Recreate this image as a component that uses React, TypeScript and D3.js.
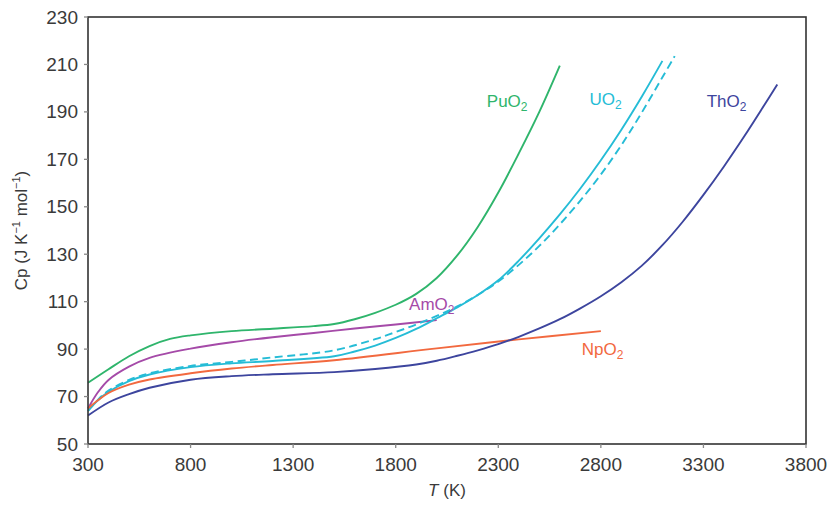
import React from "react";
import * as d3 from "d3";

const W = 832;
const H = 509;

const xTicks = [300, 800, 1300, 1800, 2300, 2800, 3300, 3800];
const yTicks = [50, 70, 90, 110, 130, 150, 170, 190, 210, 230];

const puT = [300, 400, 500, 600, 700, 800, 1000, 1200, 1400, 1500, 1600, 1700, 1800, 1900, 2000, 2100, 2200, 2300, 2400, 2500, 2600];
const puCp = [75.8, 81.5, 87, 91.3, 94.3, 95.8, 97.6, 98.6, 99.7, 100.6, 102.6, 105.3, 108.7, 113.3, 120, 129.5, 141.5, 156, 172.5, 190, 209.5];

const amT = [300, 350, 400, 500, 600, 800, 1000, 1200, 1400, 1600, 1800, 2000];
const amCp = [65, 72, 77, 82.6, 86.3, 90.2, 92.9, 95, 96.8, 98.7, 100.4, 102.2];

const uT = [300, 350, 400, 500, 600, 800, 1000, 1200, 1500, 1600, 1700, 1800, 1900, 2000, 2100, 2200, 2300, 2400, 2500, 2600, 2700, 2800, 2900, 3000, 3100];
const uCp = [64, 68.5, 72, 76.5, 79.3, 82.4, 84, 85, 87, 89, 91.5, 94.7, 98.5, 103, 107.6, 112.8, 119, 127.3, 136.7, 146.8, 157.7, 169.6, 182.5, 196.5, 211.5];

const uDashT = [300, 350, 400, 500, 600, 800, 1000, 1200, 1500, 1700, 1800, 1900, 2000, 2100, 2200, 2300, 2400, 2500, 2600, 2700, 2800, 2900, 3000, 3100, 3160];
const uDashCp = [64, 68.8, 72.5, 77, 79.8, 82.9, 84.6, 86.5, 89.5, 94.2, 97.2, 100.4, 104, 108, 112.8, 118.5, 125.5, 133.5, 142.6, 152.6, 163.6, 176, 189.8, 204.6, 213.5];

const npT = [300, 350, 400, 500, 600, 800, 1000, 1200, 1500, 2000, 2400, 2800];
const npCp = [65, 68.5, 71.5, 75, 77.2, 79.8, 81.8, 83.3, 85.3, 90.3, 94.1, 97.6];

const thT = [300, 400, 500, 600, 800, 1000, 1200, 1500, 1700, 1900, 2000, 2100, 2200, 2300, 2400, 2500, 2600, 2700, 2800, 2900, 3000, 3100, 3200, 3300, 3400, 3500, 3600, 3660];
const thCp = [62, 67.5, 71, 73.7, 77.1, 78.6, 79.4, 80.3, 81.6, 83.5, 85.1, 87.2, 89.5, 92.1, 95.2, 98.7, 102.6, 107.2, 112.3, 118.2, 125.2, 133.8, 143.8, 155, 167, 179.8, 193.3, 201.5];

const seriesNames = ["PuO2", "AmO2", "UO2", "UO2 (dashed)", "NpO2", "ThO2"];
const seriesColors = ["#2fb56c", "#a54aa8", "#25bcd6", "#25bcd6", "#f2693f", "#3d459e"];

const labelNames = ["Pu", "U", "Th", "Am", "Np"];
const labelT = [2244, 2745, 3316, 1865, 2707];
const labelCp = [192.2, 192.7, 192.2, 106.5, 87.5];
const labelColors = ["#2fb56c", "#25bcd6", "#3d459e", "#a54aa8", "#f2693f"];

const margin = { left: 88, right: 26, top: 17, bottom: 65 };

export default function App() {
  const x = d3.scaleLinear().domain([300, 3800]).range([margin.left, W - margin.right]);
  const y = d3.scaleLinear().domain([50, 230]).range([H - margin.bottom, margin.top]);

  const series = [
    { t: puT, c: puCp, dash: false },
    { t: amT, c: amCp, dash: false },
    { t: uT, c: uCp, dash: false },
    { t: uDashT, c: uDashCp, dash: true },
    { t: npT, c: npCp, dash: false },
    { t: thT, c: thCp, dash: false },
  ];

  const line = d3
    .line<[number, number]>()
    .x((d) => x(d[0]))
    .y((d) => y(d[1]))
    .curve(d3.curveCatmullRom.alpha(0.5));

  const font = "'Liberation Sans', Arial, Helvetica, sans-serif";
  const textColor = "#3a3a3a";
  const x0 = x(300);
  const x1 = x(3800);
  const y0 = y(50);
  const y1 = y(230);

  return (
    <div>
      <style>{"body{margin:0}"}</style>
      <svg width={W} height={H} style={{ display: "block" }} fontFamily={font}>
        <rect x={0} y={0} width={W} height={H} fill="#fff" />
        {series.map((s, i) => (
          <path
            key={seriesNames[i]}
            d={line(s.t.map((t, j) => [t, s.c[j]] as [number, number])) || ""}
            fill="none"
            stroke={seriesColors[i]}
            strokeWidth={1.9}
            strokeDasharray={s.dash ? "8,4.5" : undefined}
          />
        ))}
        <rect x={x0} y={y1} width={x1 - x0} height={y0 - y1} fill="none" stroke="#333" strokeWidth={1.6} />
        {xTicks.map((t) => (
          <g key={"xt" + t}>
            <line x1={x(t)} x2={x(t)} y1={y0} y2={y0 + 4} stroke="#888" strokeWidth={1.3} />
            <text x={x(t)} y={y0 + 27} textAnchor="middle" fontSize={19} fill={textColor}>
              {t}
            </text>
          </g>
        ))}
        {yTicks.map((v) => (
          <g key={"yt" + v}>
            <line x1={x0 - 4} x2={x0} y1={y(v)} y2={y(v)} stroke="#888" strokeWidth={1.3} />
            <text x={x0 - 10} y={y(v) + 6.5} textAnchor="end" fontSize={19} fill={textColor}>
              {v}
            </text>
          </g>
        ))}
        <text x={(x0 + x1) / 2} y={H - 13} textAnchor="middle" fontSize={17} fill={textColor}>
          <tspan fontStyle="italic">T</tspan> (K)
        </text>
        <text
          transform={`translate(27,${(y0 + y1) / 2}) rotate(-90)`}
          textAnchor="middle"
          fontSize={17}
          fill={textColor}
        >
          Cp (J K<tspan dy={-7} fontSize={11}>−1</tspan>
          <tspan dy={7}> mol</tspan>
          <tspan dy={-7} fontSize={11}>−1</tspan>
          <tspan dy={7}>)</tspan>
        </text>
        {labelNames.map((n, i) => (
          <text key={n} x={x(labelT[i])} y={y(labelCp[i])} fontSize={17} fill={labelColors[i]}>
            {n}O<tspan dy={4} fontSize={12}>2</tspan>
          </text>
        ))}
      </svg>
    </div>
  );
}
